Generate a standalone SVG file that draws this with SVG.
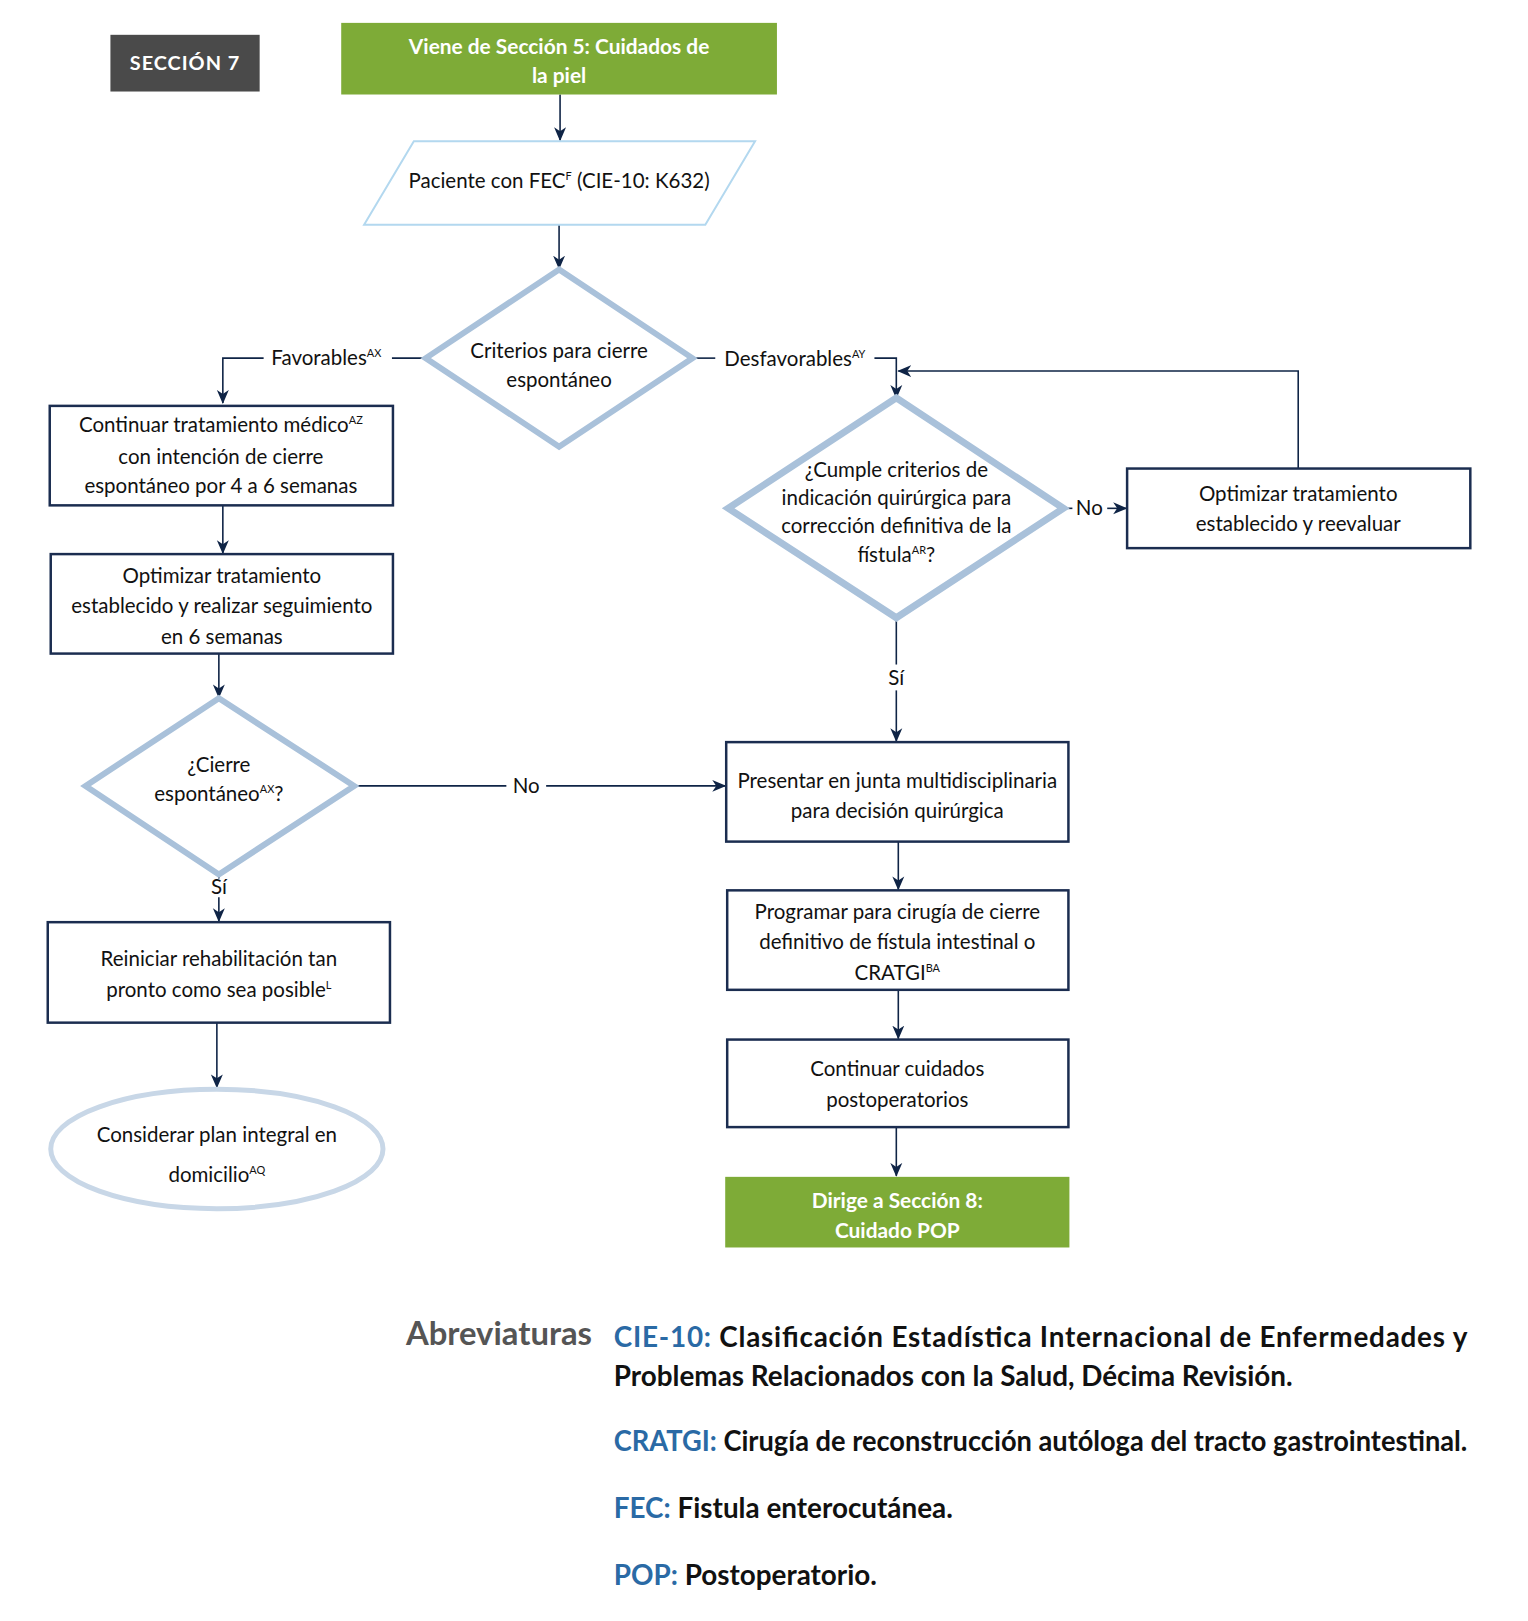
<svg xmlns="http://www.w3.org/2000/svg" width="1528" height="1621" viewBox="0 0 1528 1621">
<defs>
<marker id="arr" markerUnits="userSpaceOnUse" markerWidth="14" markerHeight="14" viewBox="0 0 14 14" refX="13" refY="7" orient="auto">
<path d="M0,1 L14,7 L0,13 L4,7 z" fill="#0f2446"/>
</marker>
<style>
text{font-family:Lato,"Liberation Sans",sans-serif;font-size:20.6px;fill:#111;text-anchor:middle}
.w{fill:#fff;font-weight:bold;font-size:21px}
.box{fill:#fff;stroke:#1b2d50;stroke-width:2.5}
.dia{fill:#fff;stroke:#a9c1da;stroke-width:6}
.con{fill:none;stroke:#0f2446;stroke-width:1.6}
.arw{marker-end:url(#arr)}
.sup{font-size:11px}
.ab{font-size:28px;font-weight:bold;text-anchor:start}
.lbl{fill:#2a6aa5}
</style>
</defs>
<rect width="1528" height="1621" fill="#fff"/>
<g transform="scale(0.9948)">

<g id="connectors">
<path class="con arw" d="M563,95 V141"/>
<path class="con arw" d="M562,226 V270"/>
<path class="con" d="M428,360 H394"/>
<path class="con arw" d="M265,360 H224 V405"/>
<path class="con" d="M696,360 H719"/>
<path class="con arw" d="M879,360 H901 V400"/>
<path class="con arw" d="M1305,471 V373 H903"/>
<path class="con" d="M1069,511 H1078"/>
<path class="con arw" d="M1113,511 H1132"/>
<path class="con" d="M901,621 V668"/>
<path class="con arw" d="M901,694 V745"/>
<path class="con arw" d="M224,508 V556"/>
<path class="con arw" d="M220,657 V701"/>
<path class="con" d="M356,790 H509"/>
<path class="con arw" d="M549,790 H729"/>
<path class="con" d="M220,879 V883"/>
<path class="con arw" d="M220,902 V926"/>
<path class="con arw" d="M218,1028 V1093"/>
<path class="con arw" d="M903,846 V894"/>
<path class="con arw" d="M903,995 V1044"/>
<path class="con arw" d="M901,1133 V1182"/>
<text x="328" y="367">Favorables<tspan class="sup" dy="-8">AX</tspan></text>
<text x="799" y="368">Desfavorables<tspan class="sup" dy="-8">AY</tspan></text>
<text x="1095" y="518">No</text>
<text x="901" y="689">Sí</text>
<text x="529" y="797">No</text>
<text x="220" y="899">Sí</text>
</g>

<g id="seccion7">
<rect x="111" y="35" width="150" height="57" fill="#4a4a4a"/>
<text class="w" x="186" y="70" letter-spacing="1" style="font-size:20px">SECCIÓN 7</text>
</g>

<g id="inicio">
<rect x="343" y="23" width="438" height="72" fill="#7eab37"/>
<text class="w" x="562" y="54">Viene de Sección 5: Cuidados de</text>
<text class="w" x="562" y="83">la piel</text>
</g>

<g id="paciente">
<polygon points="416,142 759,142 709,226 366,226" fill="#fff" stroke="#b3d8ef" stroke-width="2"/>
<text x="562" y="189">Paciente con FEC<tspan class="sup" dy="-8">F</tspan><tspan dy="8"> (CIE-10: K632)</tspan></text>
</g>

<g id="criterios">
<polygon class="dia" points="562,271 696,360 562,449 428,360"/>
<text x="562" y="360">Criterios para cierre</text>
<text x="562" y="389">espontáneo</text>
</g>

<g id="continuar-tratamiento">
<rect class="box" x="50" y="408" width="345" height="100"/>
<text x="222" y="434">Continuar tratamiento médico<tspan class="sup" dy="-8">AZ</tspan></text>
<text x="222" y="466">con intención de cierre</text>
<text x="222" y="496">espontáneo por 4 a 6 semanas</text>
</g>

<g id="optimizar-seguimiento">
<rect class="box" x="51" y="557" width="344" height="100"/>
<text x="223" y="586">Optimizar tratamiento</text>
<text x="223" y="616">establecido y realizar seguimiento</text>
<text x="223" y="647">en 6 semanas</text>
</g>

<g id="cierre-espontaneo">
<polygon class="dia" points="220,702 356,790 220,879 86,790"/>
<text x="220" y="776">¿Cierre</text>
<text x="220" y="805">espontáneo<tspan class="sup" dy="-8">AX</tspan><tspan dy="8">?</tspan></text>
</g>

<g id="reiniciar">
<rect class="box" x="48" y="927" width="344" height="101"/>
<text x="220" y="971">Reiniciar rehabilitación tan</text>
<text x="220" y="1002">pronto como sea posible<tspan class="sup" dy="-8">L</tspan></text>
</g>

<g id="domicilio">
<ellipse cx="218" cy="1155" rx="167" ry="60" fill="#fff" stroke="#c8d7e7" stroke-width="5"/>
<text x="218" y="1148">Considerar plan integral en</text>
<text x="218" y="1188">domicilio<tspan class="sup" dy="-8">AQ</tspan></text>
</g>

<g id="cumple-criterios">
<polygon class="dia" points="901,400 1069,511 901,621 732,511" style="stroke-width:7"/>
<text x="901" y="479">¿Cumple criterios de</text>
<text x="901" y="508">indicación quirúrgica para</text>
<text x="901" y="536">corrección definitiva de la</text>
<text x="901" y="565">fístula<tspan class="sup" dy="-8">AR</tspan><tspan dy="8">?</tspan></text>
</g>

<g id="optimizar-reevaluar">
<rect class="box" x="1133" y="471" width="345" height="80"/>
<text x="1305" y="504">Optimizar tratamiento</text>
<text x="1305" y="534">establecido y reevaluar</text>
</g>

<g id="presentar">
<rect class="box" x="730" y="746" width="344" height="100"/>
<text x="902" y="792">Presentar en junta multidisciplinaria</text>
<text x="902" y="822">para decisión quirúrgica</text>
</g>

<g id="programar">
<rect class="box" x="731" y="895" width="343" height="100"/>
<text x="902" y="924">Programar para cirugía de cierre</text>
<text x="902" y="954">definitivo de fístula intestinal o</text>
<text x="902" y="985">CRATGI<tspan class="sup" dy="-8">BA</tspan></text>
</g>

<g id="postoperatorios">
<rect class="box" x="731" y="1045" width="343" height="88"/>
<text x="902" y="1082">Continuar cuidados</text>
<text x="902" y="1113">postoperatorios</text>
</g>

<g id="fin">
<rect x="729" y="1183" width="346" height="71" fill="#7eab37"/>
<text class="w" x="902" y="1214">Dirige a Sección 8:</text>
<text class="w" x="902" y="1244">Cuidado POP</text>
</g>

<g id="abreviaturas">
<text x="408" y="1352" style="font-size:33px;font-weight:bold;fill:#555;text-anchor:start">Abreviaturas</text>
<text class="ab" x="617" y="1354" textLength="858" lengthAdjust="spacing"><tspan class="lbl">CIE-10:</tspan> Clasificación Estadística Internacional de Enfermedades y</text>
<text class="ab" x="617" y="1393">Problemas Relacionados con la Salud, Décima Revisión.</text>
<text class="ab" x="617" y="1459" textLength="858" lengthAdjust="spacingAndGlyphs"><tspan class="lbl">CRATGI:</tspan> Cirugía de reconstrucción autóloga del tracto gastrointestinal.</text>
<text class="ab" x="617" y="1526"><tspan class="lbl">FEC:</tspan> Fistula enterocutánea.</text>
<text class="ab" x="617" y="1593"><tspan class="lbl">POP:</tspan> Postoperatorio.</text>
</g>
</g>
</svg>
